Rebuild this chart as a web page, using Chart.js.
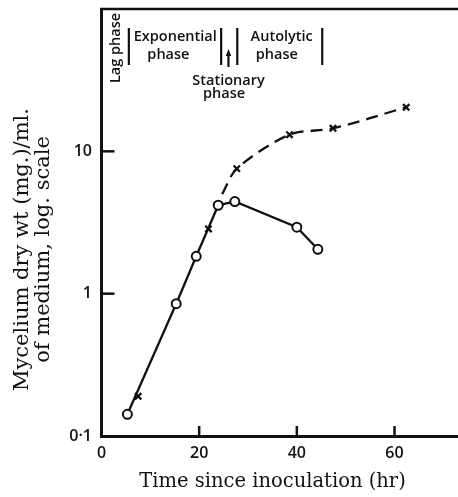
<!DOCTYPE html>
<html>
<head>
<meta charset="utf-8">
<script src="https://cdn.jsdelivr.net/npm/chart.js@4.4.1/dist/chart.umd.min.js"></script>
<style>
  html, body { margin: 0; padding: 0; background: #fff; }
  canvas { display: block; }
</style>
</head>
<body>
<canvas id="c" width="458" height="497"></canvas>
<script>
// ---- data ----
const circleHours   = [5.3, 15.3, 19.4, 23.9, 27.3, 40.0, 44.3];
const circleWeights = [0.142, 0.85, 1.83, 4.18, 4.44, 2.93, 2.05];

const crossHours    = [7.5, 21.9, 27.7, 38.5, 47.4, 62.4];
const crossWeights  = [0.19, 2.85, 7.56, 13.1, 14.5, 20.4];

const dashedHours   = [24.7, 27.7, 38.5, 47.4, 62.4];
const dashedWeights = [5.0, 7.56, 13.1, 14.5, 20.4];

const xTickValues = [0, 20, 40, 60];
const xTickLabels = ['0', '20', '40', '60'];
const yTickValues = [0.1, 1, 10];
const yTickLabels = ['0·1', '1', '10'];

const phaseBoundaryHours = [5.6, 24.5, 27.8, 45.2];
const stationaryArrowHour = 26.0;

const xTitle = 'Time since inoculation (hr)';
const yTitleLines = ['Mycelium dry wt (mg.)/ml.', 'of medium, log. scale'];

// ---- build ----
const ink = '#111';
const pts = (xs, ys) => xs.map((x, i) => ({ x, y: ys[i] }));

const decorPlugin = {
  id: 'decor',
  afterDraw(chart) {
    const { ctx, chartArea: a, scales: { x, y } } = chart;
    ctx.save();
    ctx.strokeStyle = ink;
    ctx.fillStyle = ink;
    ctx.lineCap = 'butt';

    // top frame line
    ctx.lineWidth = 2.5;
    ctx.beginPath();
    ctx.moveTo(a.left - 1.5, a.top);
    ctx.lineTo(a.right, a.top);
    ctx.stroke();

    // inward tick marks
    ctx.lineWidth = 2.5;
    xTickValues.filter(v => v !== x.min).forEach(v => {
      const px = x.getPixelForValue(v);
      ctx.beginPath(); ctx.moveTo(px, a.bottom); ctx.lineTo(px, a.bottom - 10); ctx.stroke();
    });
    yTickValues.filter(v => v !== y.min).forEach(v => {
      const py = y.getPixelForValue(v);
      ctx.beginPath(); ctx.moveTo(a.left, py); ctx.lineTo(a.left + 13, py); ctx.stroke();
    });

    // phase boundary bars
    ctx.lineWidth = 2.2;
    phaseBoundaryHours.forEach(h => {
      const px = x.getPixelForValue(h);
      ctx.beginPath(); ctx.moveTo(px, a.top + 19); ctx.lineTo(px, a.top + 56); ctx.stroke();
    });
    // stationary arrow
    const ax = x.getPixelForValue(stationaryArrowHour);
    ctx.beginPath(); ctx.moveTo(ax, a.top + 58); ctx.lineTo(ax, a.top + 45); ctx.stroke();
    ctx.beginPath();
    ctx.moveTo(ax, a.top + 40);
    ctx.lineTo(ax - 2.8, a.top + 47);
    ctx.lineTo(ax + 2.8, a.top + 47);
    ctx.closePath(); ctx.fill();

    // phase labels
    ctx.font = '600 14.5px "Open Sans"';
    ctx.textAlign = 'center';
    ctx.textBaseline = 'alphabetic';
    const labels = [
      ['Exponential', 15.1, 32],
      ['phase', 13.7, 49.5],
      ['Stationary', 26.0, 75.5],
      ['phase', 25.1, 89],
      ['Autolytic', 36.9, 32],
      ['phase', 35.9, 49.5]
    ];
    labels.forEach(([t, h, dy]) => ctx.fillText(t, x.getPixelForValue(h), a.top + dy));

    // Lag phase (vertical)
    ctx.save();
    ctx.translate(x.getPixelForValue(3.8), a.top + 39);
    ctx.rotate(-Math.PI / 2);
    ctx.fillText('Lag phase', 0, 0);
    ctx.restore();

    // axis titles
    ctx.font = '19.5px "DejaVu Serif"';
    ctx.textAlign = 'center';
    ctx.fillText(xTitle, 272.5, a.bottom + 51);

    ctx.save();
    ctx.font = '21px "DejaVu Serif"';
    ctx.translate(0, (a.top + a.bottom) / 2 + 27);
    ctx.rotate(-Math.PI / 2);
    ctx.fillText(yTitleLines[0], 0, 28);
    ctx.fillText(yTitleLines[1], 0, 48.5);
    ctx.restore();

    ctx.restore();
  }
};

new Chart(document.getElementById('c'), {
  type: 'line',
  data: {
    datasets: [
      {
        label: 'Circles',
        data: pts(circleHours, circleWeights),
        borderColor: ink,
        borderWidth: 2.3,
        tension: 0,
        pointStyle: 'circle',
        pointRadius: 4.5,
        pointBorderWidth: 2,
        pointBackgroundColor: '#fff',
        pointBorderColor: ink
      },
      {
        label: 'Crosses',
        data: pts(crossHours, crossWeights),
        showLine: false,
        pointStyle: 'crossRot',
        pointRadius: 4.5,
        pointBorderWidth: 2.3,
        pointBorderColor: ink,
        borderColor: ink
      },
      {
        label: 'Dashed',
        data: pts(dashedHours, dashedWeights),
        borderColor: ink,
        borderWidth: 2.3,
        borderDash: [12, 7],
        tension: 0.3,
        pointRadius: 0
      }
    ]
  },
  options: {
    responsive: false,
    animation: false,
    devicePixelRatio: 1,
    layout: { autoPadding: false, padding: { top: 9, right: 0, left: 0, bottom: 0 } },
    plugins: { legend: { display: false }, tooltip: { enabled: false } },
    scales: {
      x: {
        type: 'linear',
        min: 0,
        max: 73,
        afterBuildTicks: s => { s.ticks = xTickValues.map(v => ({ value: v })); },
        afterFit: s => { s.height = 61; s.paddingLeft = 0; s.paddingRight = 0; },
        grid: { display: false, drawTicks: false },
        border: { display: true, color: ink, width: 3 },
        ticks: {
          padding: 8,
          color: ink,
          maxRotation: 0,
          font: { family: 'Open Sans', size: 16, weight: '600' },
          callback: v => xTickLabels[xTickValues.indexOf(v)]
        }
      },
      y: {
        type: 'logarithmic',
        min: 0.1,
        max: 100,
        afterBuildTicks: s => { s.ticks = yTickValues.map(v => ({ value: v })); },
        afterFit: s => { s.width = 101.5; s.paddingTop = 0; s.paddingBottom = 0; },
        grid: { display: false, drawTicks: false },
        border: { display: true, color: ink, width: 3 },
        ticks: {
          padding: 9.5,
          color: ink,
          font: { family: 'Open Sans', size: 16, weight: '600' },
          callback: v => yTickLabels[yTickValues.indexOf(v)]
        }
      }
    }
  },
  plugins: [decorPlugin]
});
</script>
</body>
</html>
